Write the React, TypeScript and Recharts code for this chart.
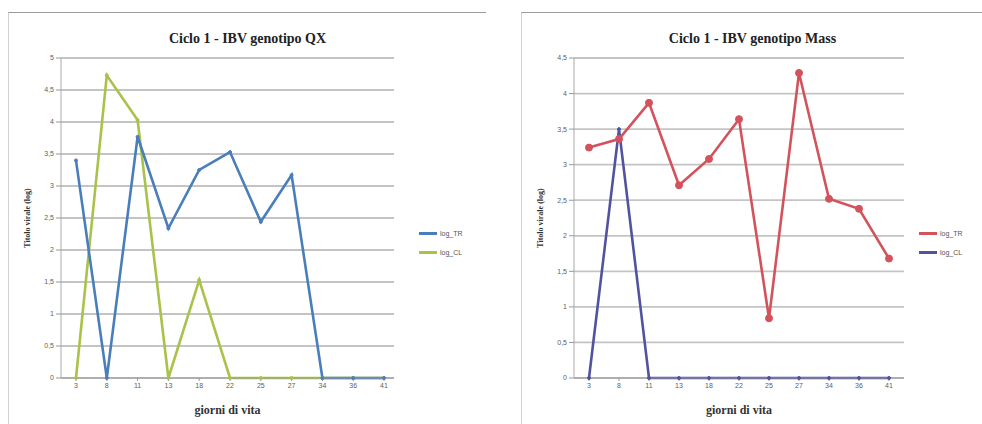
import React from 'react';
import { LineChart, Line, XAxis, YAxis, CartesianGrid } from 'recharts';

// sampling days (giorni di vita)
const giorni = ['3', '8', '11', '13', '18', '22', '25', '27', '34', '36', '41'];

// Ciclo 1 - QX
const qxTR = [3.4, 0, 3.77, 2.34, 3.25, 3.53, 2.44, 3.17, 0, 0, 0];
const qxCL = [0, 4.73, 4.03, 0, 1.53, 0, 0, 0, 0, 0, 0];
const qxTicks = [0, 0.5, 1, 1.5, 2, 2.5, 3, 3.5, 4, 4.5, 5];

// Ciclo 1 - Mass
const massTR = [3.24, 3.36, 3.87, 2.71, 3.08, 3.64, 0.84, 4.29, 2.52, 2.38, 1.68];
const massCL = [0, 3.5, 0, 0, 0, 0, 0, 0, 0, 0, 0];
const massTicks = [0, 0.5, 1, 1.5, 2, 2.5, 3, 3.5, 4, 4.5];

const qxData = giorni.map((g, i) => ({ giorno: g, tr: qxTR[i], cl: qxCL[i] }));
const massData = giorni.map((g, i) => ({ giorno: g, tr: massTR[i], cl: massCL[i] }));

const fmt = (v: number) => String(v).replace('.', ',');
const tickStyle = { fontSize: 7, fill: '#606060', fontFamily: 'Liberation Sans' };
const xTitle = { fontSize: 12, fontWeight: 700, fill: '#333', fontFamily: 'Liberation Serif' };
const yTitle = { fontSize: 8, fontWeight: 700, fill: '#333', fontFamily: 'Liberation Serif', textAnchor: 'middle' as const };

interface PanelProps {
  left: number;
  width: number;
  rightMargin: number;
  padRight: number;
  title: string;
  data: { giorno: string; tr: number; cl: number }[];
  ticks: number[];
  series: { key: 'tr' | 'cl'; name: string; color: string; r: number }[];
  legendX: number;
}

function Panel({ left, width, rightMargin, padRight, title, data, ticks, series, legendX }: PanelProps) {
  const max = ticks[ticks.length - 1];
  return (
    <div style={{ position: 'absolute', left, top: 12, width, height: 412, borderTop: '1px solid #9a9a9a', borderLeft: '1px solid #d0d0d0' }}>
      <div style={{ position: 'absolute', left: 0, top: 18, width: '100%', textAlign: 'center', fontFamily: 'Liberation Serif', fontWeight: 700, fontSize: 14, color: '#222' }}>
        {title}
      </div>
      <LineChart width={width} height={411} data={data} margin={{ top: 45, right: rightMargin, bottom: 26, left: 0 }}>
        <CartesianGrid vertical={false} stroke="#c4c4c4" strokeWidth={1.8} />
        <XAxis
          dataKey="giorno"
          tick={tickStyle}
          tickLine={{ stroke: '#999' }}
          axisLine={{ stroke: '#999' }}
          height={20}
          tickSize={3}
          padding={{ left: 15, right: padRight }}
          label={{ value: 'giorni di vita', position: 'insideBottom', offset: -16, style: xTitle }}
        />
        <YAxis
          width={52}
          domain={[0, max]}
          ticks={ticks}
          tickFormatter={fmt}
          tick={tickStyle}
          tickLine={{ stroke: '#999' }}
          axisLine={{ stroke: '#aaa' }}
          tickSize={5}
          label={{ value: 'Titolo virale (log)', angle: -90, position: 'insideLeft', offset: 18, style: yTitle }}
        />
        {series.map((s) => (
          <Line
            key={s.key}
            dataKey={s.key}
            name={s.name}
            stroke={s.color}
            strokeWidth={2.6}
            dot={{ r: s.r, fill: s.color, stroke: s.color, strokeWidth: 1 }}
            isAnimationActive={false}
          />
        ))}
      </LineChart>
      {/* legend on the right of the plot */}
      <div style={{ position: 'absolute', left: legendX, top: 211, fontFamily: 'Liberation Sans', fontSize: 7, color: '#555' }}>
        {[...series].reverse().map((s) => (
          <div key={s.key} style={{ display: 'flex', alignItems: 'center', height: 19 }}>
            <div style={{ width: 18, height: 3, background: s.color, marginRight: 3 }} />
            {s.name}
          </div>
        ))}
      </div>
    </div>
  );
}

export default function App() {
  return (
    <div style={{ position: 'absolute', left: 0, top: 0, width: 982, height: 424, background: '#fff', overflow: 'hidden' }}>
      <Panel
        left={8}
        width={477}
        rightMargin={92}
        padRight={10}
        title="Ciclo 1 - IBV genotipo QX"
        data={qxData}
        ticks={qxTicks}
        series={[
          { key: 'cl', name: 'log_CL', color: '#a9c24a', r: 1.5 },
          { key: 'tr', name: 'log_TR', color: '#4a7ebb', r: 1.5 },
        ]}
        legendX={410}
      />
      <Panel
        left={521}
        width={461}
        rightMargin={79}
        padRight={15}
        title="Ciclo 1 - IBV genotipo Mass"
        data={massData}
        ticks={massTicks}
        series={[
          { key: 'cl', name: 'log_CL', color: '#52539f', r: 1.5 },
          { key: 'tr', name: 'log_TR', color: '#d4525c', r: 3.5 },
        ]}
        legendX={397}
      />
    </div>
  );
}
